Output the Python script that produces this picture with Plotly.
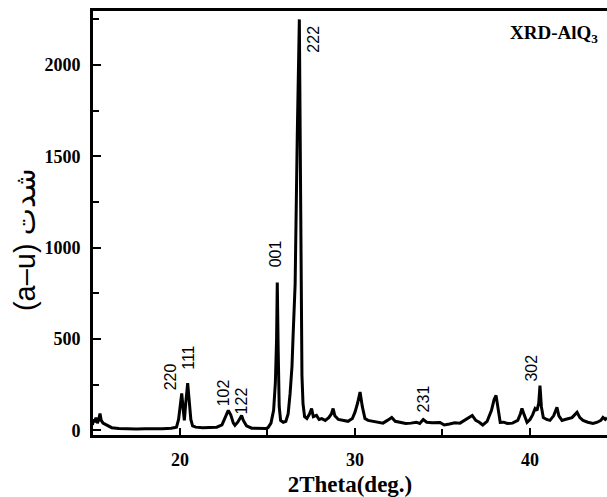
import plotly.graph_objects as go

two_theta = [15.00, 15.05, 15.12, 15.20, 15.28, 15.36, 15.43, 15.50, 15.60, 15.70, 15.80, 15.90,
             16.10, 16.50, 17.00, 17.50, 18.00, 18.50, 19.00, 19.50, 19.80, 19.92, 20.02, 20.10,
             20.18, 20.25, 20.33, 20.44, 20.53, 20.62, 20.72, 20.90, 21.30, 21.70, 22.10, 22.40,
             22.60, 22.76, 22.90, 23.05, 23.14, 23.30, 23.45, 23.52, 23.62, 23.80, 24.10, 24.50,
             24.90, 25.03, 25.20, 25.35, 25.45, 25.52, 25.56, 25.61, 25.67, 25.75, 25.90, 26.05,
             26.18, 26.29, 26.40, 26.46, 26.58, 26.70, 26.82, 26.90, 26.97, 27.03, 27.12, 27.25,
             27.40, 27.52, 27.62, 27.80, 27.95, 28.10, 28.30, 28.50, 28.65, 28.75, 28.85, 29.05,
             29.30, 29.60, 29.85, 30.00, 30.15, 30.29, 30.42, 30.57, 30.75, 31.00, 31.30, 31.60,
             31.85, 32.10, 32.30, 32.60, 32.90, 33.20, 33.50, 33.70, 33.90, 34.10, 34.40, 34.86,
             35.10, 35.40, 35.70, 36.00, 36.40, 36.70, 36.90, 37.10, 37.30, 37.55, 37.80, 37.95,
             38.06, 38.18, 38.30, 38.50, 38.70, 39.00, 39.30, 39.45, 39.54, 39.65, 39.83, 40.00,
             40.15, 40.29, 40.40, 40.50, 40.57, 40.65, 40.76, 40.95, 41.14, 41.35, 41.54, 41.65,
             41.83, 42.00, 42.17, 42.40, 42.55, 42.69, 42.85, 43.03, 43.30, 43.60, 43.85, 44.05,
             44.17, 44.30, 44.40]
intensity = [30, 60, 45, 70, 40, 60, 93, 55, 40, 35, 30, 25,
             15, 10, 8, 8, 9, 8, 9, 12, 18, 60, 150, 203,
             120, 55, 150, 259, 160, 60, 25, 18, 15, 15, 18, 30,
             70, 110, 85, 40, 28, 45, 70, 82, 55, 25, 12, 10,
             10, 15, 40, 110, 260, 500, 810, 450, 130, 55, 45, 50,
             90, 200, 350, 508, 800, 1600, 2250, 1200, 300, 147, 75, 65,
             90, 120, 75, 82, 60, 65, 55, 70, 90, 120, 80, 60,
             55, 50, 65, 100, 150, 210, 130, 65, 55, 50, 45, 40,
             55, 71, 50, 45, 38, 40, 45, 38, 60, 45, 42, 44,
             30, 35, 42, 40, 66, 82, 55, 45, 30, 50, 110, 170,
             192, 110, 44, 45, 38, 40, 55, 90, 120, 90, 44, 60,
             85, 120, 110, 150, 246, 130, 71, 60, 55, 80, 126, 80,
             55, 60, 66, 70, 85, 99, 70, 55, 45, 38, 45, 55,
             71, 60, 70]

peak_labels = ["220", "111", "102", "122", "001", "222", "231", "302"]
label_x = [19.51, 20.51, 22.51, 23.54, 25.43, 27.63, 33.94, 40.09]
label_y = [293, 397, 208, 164, 964, 2142, 175, 342]

x_ticks = [20, 30, 40]
y_ticks = [0, 500, 1000, 1500, 2000]

fig = go.Figure()
fig.add_trace(go.Scatter(x=two_theta, y=intensity, mode="lines",
                         line=dict(color="black", width=3), showlegend=False))

for t, lx, ly in zip(peak_labels, label_x, label_y):
    fig.add_annotation(x=lx, y=ly, text=t, textangle=-90, showarrow=False,
                       xanchor="center", yanchor="middle",
                       font=dict(family="Liberation Sans, Arial", size=16, color="black"))

fig.add_annotation(xref="paper", yref="paper", x=0.986, y=0.946,
                   text="<b>XRD-AlQ<sub>3</sub></b>", showarrow=False,
                   xanchor="right", yanchor="middle",
                   font=dict(family="Liberation Serif, Times New Roman", size=19, color="black"))

# y-axis title placed as an annotation to match its off-centre position
fig.add_annotation(xref="paper", yref="paper", x=-0.132, y=0.46,
                   text="(a–u) شدت", textangle=-90, showarrow=False,
                   xanchor="center", yanchor="middle",
                   font=dict(family="Liberation Sans, DejaVu Sans", size=29, color="black"))

tickfont = dict(family="Liberation Serif, Times New Roman", size=18, color="black", weight="bold")

fig.update_layout(
    width=607, height=497,
    margin=dict(l=93, r=0, t=11, b=62),
    paper_bgcolor="white", plot_bgcolor="white",
    xaxis=dict(range=[15.03, 44.4], tickvals=x_ticks, ticks="inside", ticklen=7, tickwidth=2,
               tickcolor="black", showline=True, linewidth=3, linecolor="black", mirror=True,
               showgrid=False, zeroline=False, tickfont=tickfont, ticklabelstandoff=6,
               minor=dict(dtick=5, tick0=0, ticks="inside", ticklen=6, tickwidth=2, tickcolor="black"),
               title=dict(text="<b>2Theta(deg.)</b>", standoff=8,
                          font=dict(family="Liberation Serif, Times New Roman", size=23, color="black"))),
    yaxis=dict(range=[-25, 2296], tickvals=y_ticks, ticks="inside", ticklen=8, tickwidth=2,
               tickcolor="black", showline=True, linewidth=3, linecolor="black", mirror=False,
               showgrid=False, zeroline=False, tickfont=tickfont, ticklabelstandoff=6,
               minor=dict(dtick=250, tick0=0, ticks="inside", ticklen=6, tickwidth=2, tickcolor="black")),
)

fig.write_html("out.html")
